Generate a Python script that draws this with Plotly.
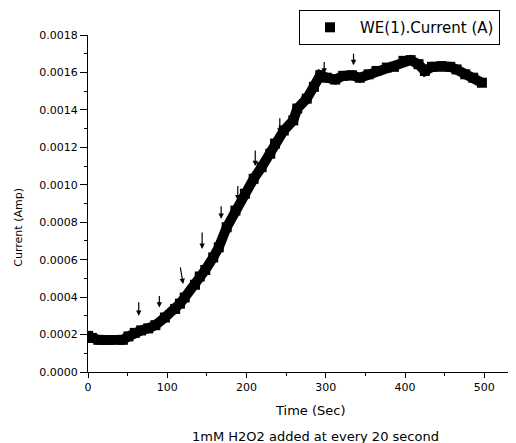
import plotly.graph_objects as go

# Time (s) and current (A)
time_s = [0, 5, 13, 25, 44, 51, 59, 67, 76, 85, 97, 110, 116, 122, 135, 141, 148,
          158, 165, 175, 186, 198, 209, 219, 230, 236, 247, 259, 264, 276, 285, 293,
          301, 312, 322, 333, 343, 354, 364, 377, 386, 398, 407, 417, 425, 434, 446,
          457, 465, 476, 486, 497]
current_a = [0.000193, 0.000182, 0.000172, 0.000171, 0.000172, 0.000190, 0.000209,
             0.000222, 0.000233, 0.000250, 0.000291, 0.000337, 0.000365, 0.000398,
             0.000466, 0.000510, 0.000545, 0.000612, 0.000666, 0.000773, 0.000862,
             0.000952, 0.001032, 0.001094, 0.001166, 0.001220, 0.001290, 0.001344,
             0.001407, 0.001460, 0.001523, 0.001585, 0.001572, 0.001562, 0.001582,
             0.001585, 0.001572, 0.001590, 0.001608, 0.001626, 0.001630, 0.001662,
             0.001666, 0.001644, 0.001608, 0.001630, 0.001634, 0.001630, 0.001616,
             0.001590, 0.001572, 0.001545]

# H2O2 addition arrows (time, tip current, arrow length in px, horizontal offset)
arrow_t = [64, 90, 120, 144, 168, 189, 211, 242, 272, 298, 335]
arrow_y = [0.00030, 0.000344, 0.00047, 0.000657, 0.000818, 0.000916, 0.0011,
           0.001273, 0.001443, 0.001594, 0.001639]
arrow_len = [15, 13, 18, 18, 14, 16, 17, 17, 8, 13, 13]
arrow_dx = [0, 0, -3, 0, 0, 0, 0, 0, 0, 0, 0]

series_name = "WE(1).Current (A)"
x_ticks = [0, 100, 200, 300, 400, 500]
y_ticks = [0.0, 0.0002, 0.0004, 0.0006, 0.0008, 0.0010, 0.0012, 0.0014, 0.0016, 0.0018]

FONT = "DejaVu Sans"

fig = go.Figure()
fig.add_trace(go.Scatter(
    x=time_s, y=current_a, mode="lines", showlegend=False,
    line=dict(color="black", width=10), hoverinfo="skip"))
fig.add_trace(go.Scatter(
    x=time_s, y=current_a, mode="markers", name=series_name,
    marker=dict(symbol="square", size=10, color="black", line=dict(width=0))))

annotations = []
for t, yv, ln, dx in zip(arrow_t, arrow_y, arrow_len, arrow_dx):
    annotations.append(dict(
        x=t, y=yv, xref="x", yref="y", text="", showarrow=True,
        ax=dx, ay=-ln, arrowhead=2, arrowsize=0.9, arrowwidth=1.2,
        arrowcolor="black"))

annotations += [
    dict(text="Time (Sec)", xref="paper", yref="paper", x=0.5206, y=-0.1128,
         xanchor="center", yanchor="middle", showarrow=False,
         font=dict(family=FONT, size=13, color="black")),
    dict(text="1mM H2O2 added at every 20 second", xref="paper", yref="paper",
         x=0.532, y=-0.190, xanchor="center", yanchor="middle", showarrow=False,
         font=dict(family=FONT, size=13, color="black")),
    dict(text="Current (Amp)", xref="paper", yref="paper", x=-0.163, y=0.429,
         xanchor="center", yanchor="middle", textangle=-90, showarrow=False,
         font=dict(family=FONT, size=11, color="black")),
]

# page body has an 8px default margin, so the figure is sized/offset to compensate
fig.update_layout(
    width=508, height=435,
    margin=dict(l=80, r=0, t=27, b=71, autoexpand=False),
    paper_bgcolor="white", plot_bgcolor="white",
    font=dict(family=FONT, size=11, color="black"),
    annotations=annotations,
    legend=dict(x=0.493, y=1.074, xanchor="left", yanchor="top",
                bordercolor="black", borderwidth=1, bgcolor="white",
                itemwidth=50, font=dict(family=FONT, size=15, color="black")),
    xaxis=dict(range=[0, 540], tickvals=x_ticks, ticks="outside", ticklen=5,
               tickwidth=1, tickcolor="black", showline=True, linecolor="black",
               linewidth=1.3, showgrid=False, zeroline=False, automargin=False,
               minor=dict(dtick=50, ticks="outside", ticklen=3, tickcolor="black"),
               tickfont=dict(family=FONT, size=11)),
    yaxis=dict(range=[0, 0.0018], tickvals=y_ticks, tickformat=".4f",
               ticks="outside", ticklen=7, tickwidth=1, tickcolor="black",
               showline=True, linecolor="black", linewidth=1.3, showgrid=False,
               zeroline=False, automargin=False,
               minor=dict(dtick=0.0001, ticks="outside", ticklen=3, tickcolor="black"),
               tickfont=dict(family=FONT, size=11)),
)

fig.write_html("out.html")
